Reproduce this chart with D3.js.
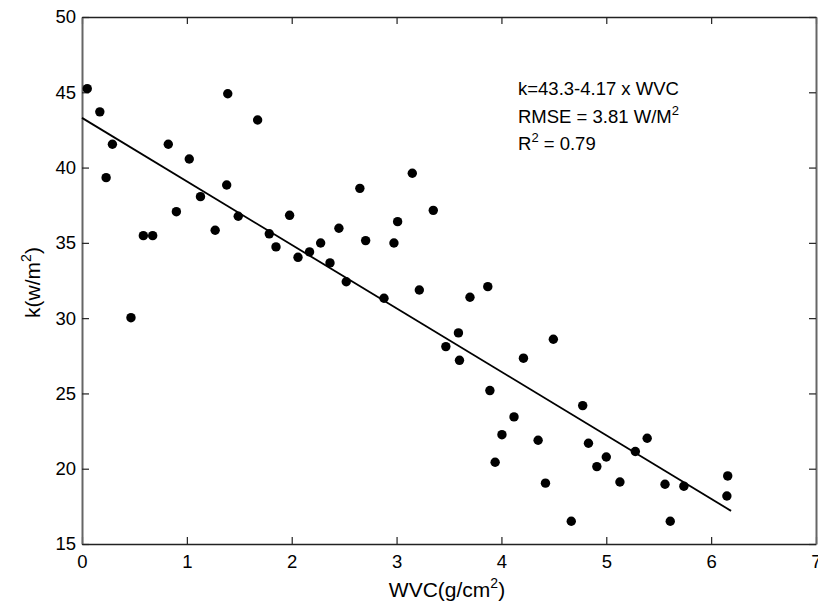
<!DOCTYPE html>
<html>
<head>
<meta charset="utf-8">
<script src="https://cdn.jsdelivr.net/npm/d3@7"></script>
<style>
  body { margin: 0; background: #fff; }
  text { font-family: "Liberation Sans", Arial, sans-serif; fill: #000; }
</style>
</head>
<body>
<div id="app"></div>
<script>
// water vapour content (g/cm^2) and k (W/m^2)
const wvc = [0.05, 0.17, 0.29, 0.23, 0.467, 0.585, 0.674, 0.823, 1.023, 0.90,
  1.13, 1.27, 1.39, 1.38, 1.49, 1.675, 1.786, 1.85, 1.98, 2.06,
  2.17, 2.276, 2.365, 2.45, 2.52, 2.65, 2.705, 2.88, 2.975, 3.01,
  3.15, 3.217, 3.35, 3.47, 3.59, 3.60, 3.70, 3.87, 3.89, 4.21,
  4.12, 4.005, 3.94, 4.35, 4.42, 4.495, 4.666, 4.775, 4.83, 4.91,
  5.0, 5.13, 5.277, 5.39, 5.56, 5.61, 5.74, 6.158, 6.15];
const kVals = [45.24, 43.7, 41.55, 39.33, 30.03, 35.48, 35.48, 41.55, 40.57, 37.07,
  38.07, 35.84, 44.9, 38.84, 36.77, 43.16, 35.6, 34.73, 36.83, 34.04,
  34.4, 34.99, 33.67, 35.97, 32.42, 38.62, 35.15, 31.32, 34.99, 36.41,
  39.62, 31.87, 37.16, 28.11, 29.02, 27.2, 31.39, 32.09, 25.19, 27.34,
  23.44, 22.26, 20.43, 21.89, 19.04, 28.6, 16.51, 24.19, 21.69, 20.14,
  20.78, 19.12, 21.14, 22.02, 18.97, 16.51, 18.84, 19.52, 18.19];

// ends of the fitted line as drawn
const fitX = [0, 6.19];
const fitY = [43.3, 17.2];
const xTicks = [0, 1, 2, 3, 4, 5, 6, 7];
const yTicks = [15, 20, 25, 30, 35, 40, 45, 50];

const W = 818, H = 606;
const m = { left: 82, right: 2, top: 17, bottom: 62 };

const svg = d3.select('#app').append('svg')
  .attr('width', W).attr('height', H);

const x = d3.scaleLinear().domain([0, 7]).range([m.left, W - m.right]);
const y = d3.scaleLinear().domain([15, 50]).range([H - m.bottom, m.top]);

const tickLen = 7;

// axes: bottom + left carry labels, top + right are mirrored ticks only
const styleAxis = (g, color, width) => {
  g.select('.domain').attr('stroke', color).attr('stroke-width', width);
  g.selectAll('.tick line').attr('stroke', '#222').attr('stroke-width', 1.2);
  g.selectAll('.tick text').attr('font-size', 18.5).attr('fill', '#000')
    .attr('font-family', '"Liberation Sans", Arial, sans-serif');
};

svg.append('g')
  .attr('transform', `translate(0,${y(15)})`)
  .call(d3.axisBottom(x).tickValues(xTicks).tickSizeInner(-tickLen).tickSizeOuter(0).tickPadding(11).tickFormat(d3.format('d')))
  .call(g => styleAxis(g, '#222', 1.6));

svg.append('g')
  .attr('transform', `translate(0,${y(50)})`)
  .call(d3.axisTop(x).tickValues(xTicks).tickSizeInner(-tickLen).tickSizeOuter(0).tickFormat(''))
  .call(g => styleAxis(g, '#222', 1.6));

svg.append('g')
  .attr('transform', `translate(${x(0)},0)`)
  .call(d3.axisLeft(y).tickValues(yTicks).tickSizeInner(-tickLen).tickSizeOuter(0).tickPadding(6).tickFormat(d3.format('d')))
  .call(g => styleAxis(g, '#666', 2));

svg.append('g')
  .attr('transform', `translate(${x(7)},0)`)
  .call(d3.axisRight(y).tickValues(yTicks).tickSizeInner(-tickLen).tickSizeOuter(0).tickFormat(''))
  .call(g => styleAxis(g, '#666', 2));

// fitted line
svg.append('path')
  .datum(fitX.map((v, i) => [v, fitY[i]]))
  .attr('d', d3.line().x(d => x(d[0])).y(d => y(d[1])))
  .attr('fill', 'none')
  .attr('stroke', '#000').attr('stroke-width', 1.8);

// points
svg.append('g')
  .selectAll('circle')
  .data(wvc.map((v, i) => [v, kVals[i]]))
  .join('circle')
  .attr('cx', d => x(d[0]))
  .attr('cy', d => y(d[1]))
  .attr('r', 4.7)
  .attr('fill', '#000');

// annotation
const note = svg.append('text').attr('font-size', 18.5);
note.append('tspan').attr('x', 518).attr('y', 95).text('k=43.3-4.17 x WVC');
note.append('tspan').attr('x', 518).attr('y', 123).text('RMSE = 3.81 W/M');
note.append('tspan').attr('dy', -8).attr('font-size', 13).text('2');
note.append('tspan').attr('x', 518).attr('y', 150).text('R');
note.append('tspan').attr('dy', -8).attr('font-size', 13).text('2');
note.append('tspan').attr('dy', 8).text(' = 0.79');

// axis titles
const xt = svg.append('text').attr('font-size', 21).attr('text-anchor', 'middle')
  .attr('x', 447).attr('y', 597);
xt.append('tspan').text('WVC(g/cm');
xt.append('tspan').attr('dy', -9).attr('font-size', 14).text('2');
xt.append('tspan').attr('dy', 9).text(')');

const yt = svg.append('text').attr('font-size', 21).attr('text-anchor', 'middle')
  .attr('transform', `translate(40,${y(32.5) + 2}) rotate(-90)`);
yt.append('tspan').text('k(w/m');
yt.append('tspan').attr('dy', -9).attr('font-size', 14).text('2');
yt.append('tspan').attr('dy', 9).text(')');
</script>
</body>
</html>
